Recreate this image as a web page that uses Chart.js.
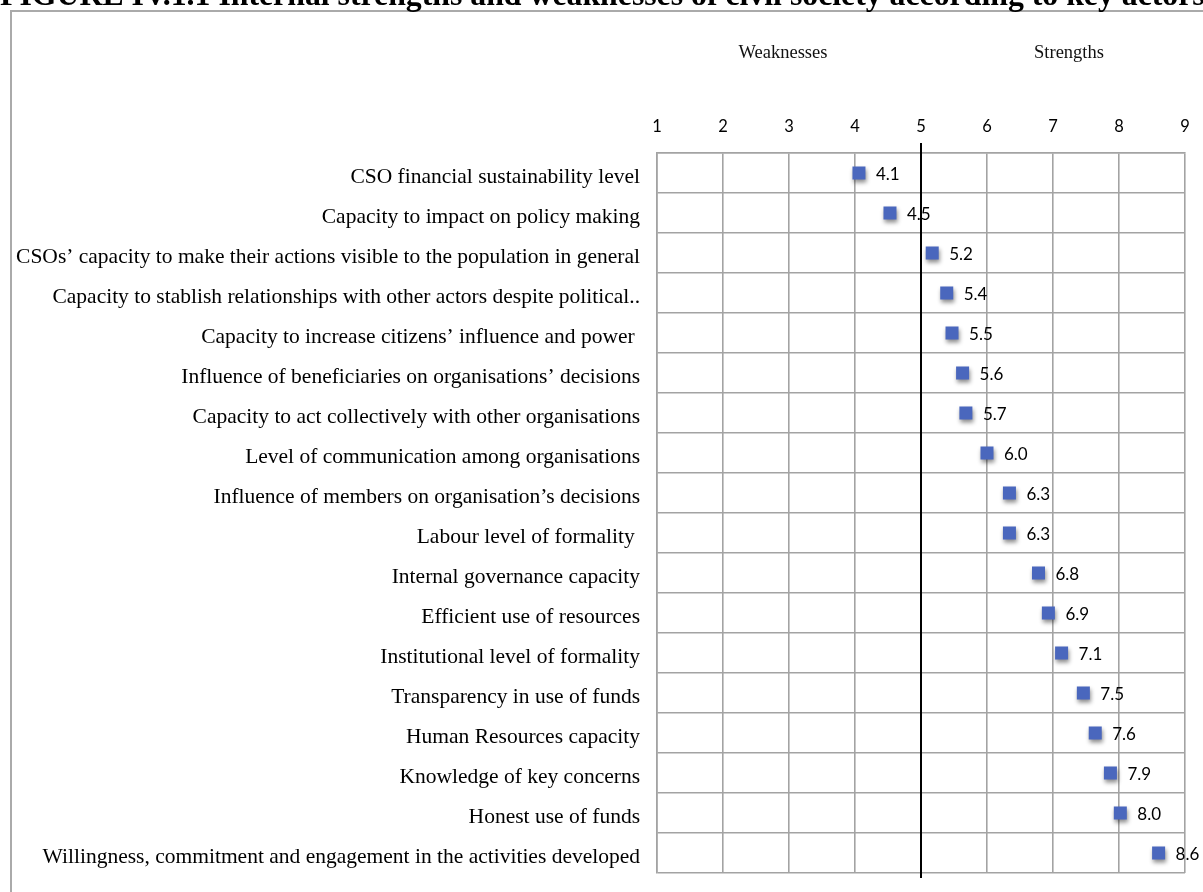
<!DOCTYPE html>
<html>
<head>
<meta charset="utf-8">
<script src="https://cdn.jsdelivr.net/npm/chart.js@4/dist/chart.umd.min.js"></script>
<style>
  html, body { margin: 0; padding: 0; background: #fff; }
  #wrap { width: 1203px; height: 892px; position: relative; }
</style>
</head>
<body>
<div id="wrap"><canvas id="c" width="1203" height="892"></canvas></div>
<script>
const categories = [
  "CSO financial sustainability level",
  "Capacity to impact on policy making",
  "CSOs\u2019 capacity to make their actions visible to the population in general",
  "Capacity to stablish relationships with other actors despite political..",
  "Capacity to increase citizens\u2019 influence and power ",
  "Influence of beneficiaries on organisations\u2019 decisions",
  "Capacity to act collectively with other organisations",
  "Level of communication among organisations",
  "Influence of members on organisation\u2019s decisions",
  "Labour level of formality ",
  "Internal governance capacity",
  "Efficient use of resources",
  "Institutional level of formality",
  "Transparency in use of funds",
  "Human Resources capacity",
  "Knowledge of key concerns",
  "Honest use of funds",
  "Willingness, commitment and engagement in the activities developed"
];
const scores = [4.06, 4.53, 5.17, 5.39, 5.47, 5.63, 5.68, 6.0, 6.34, 6.34, 6.78, 6.93, 7.13, 7.46, 7.64, 7.87, 8.02, 8.6];
const xTickValues = [1, 2, 3, 4, 5, 6, 7, 8, 9];
const dividerValue = 5;
const titleText = "FIGURE IV.1.1 Internal strengths and weaknesses of civil society according to key actors";
const sideLabels = ["Weaknesses", "Strengths"];

const GRID = '#a3a3a3';
const MARK = '#4a67bd';

const decorPlugin = {
  id: 'decor',
  beforeDraw(chart) {
    const ctx = chart.ctx;
    ctx.save();
    ctx.fillStyle = '#fff';
    ctx.fillRect(0, 0, chart.width, chart.height);
    ctx.strokeStyle = '#aaaaaa';
    ctx.lineWidth = 2;
    ctx.strokeRect(11, 11, 1300, 1000);
    let size = 28;
    ctx.font = 'bold ' + size + 'px "Liberation Serif", "Times New Roman", serif';
    const w = ctx.measureText(titleText).width;
    size = size * 1205 / w;
    ctx.font = 'bold ' + size.toFixed(2) + 'px "Liberation Serif", "Times New Roman", serif';
    ctx.fillStyle = '#000';
    ctx.textBaseline = 'alphabetic';
    ctx.textAlign = 'left';
    ctx.fillText(titleText, 0, 5);
    ctx.font = '18.5px "Liberation Serif", "Times New Roman", serif';
    ctx.textAlign = 'center';
    ctx.textBaseline = 'middle';
    ctx.fillStyle = '#111';
    ctx.fillText(sideLabels[0], 783, 53);
    ctx.fillText(sideLabels[1], 1069, 53);
    ctx.restore();
  },
  beforeDatasetsDraw(chart) {
    const ctx = chart.ctx;
    const xs = chart.scales.x;
    const px = xs.getPixelForValue(dividerValue);
    ctx.save();
    ctx.strokeStyle = '#000';
    ctx.lineWidth = 2;
    ctx.beginPath();
    ctx.moveTo(px, chart.chartArea.top - 10);
    ctx.lineTo(px, chart.chartArea.bottom + 5);
    ctx.stroke();
    ctx.restore();
  },
  beforeDatasetDraw(chart) {
    const ctx = chart.ctx;
    ctx.save();
    ctx.shadowColor = 'rgba(0,0,0,0.45)';
    ctx.shadowOffsetX = 1;
    ctx.shadowOffsetY = 3;
    ctx.shadowBlur = 4;
  },
  afterDatasetDraw(chart) {
    chart.ctx.restore();
  },
  afterDraw(chart) {
    const ctx = chart.ctx;
    const meta = chart.getDatasetMeta(0);
    ctx.save();
    ctx.font = '17px Lato, "Open Sans", sans-serif';
    ctx.fillStyle = '#000';
    ctx.textAlign = 'left';
    ctx.textBaseline = 'middle';
    meta.data.forEach((pt, i) => {
      ctx.fillText(scores[i].toFixed(1), pt.x + 17, pt.y + 2);
    });
    ctx.restore();
  }
};

new Chart(document.getElementById('c'), {
  type: 'line',
  data: {
    labels: categories,
    datasets: [{
      data: scores,
      showLine: false,
      pointStyle: 'rect',
      pointRadius: 9.2,
      pointHoverRadius: 9.2,
      pointBackgroundColor: MARK,
      pointBorderColor: MARK,
      pointBorderWidth: 0,
      clip: false
    }]
  },
  options: {
    indexAxis: 'y',
    responsive: false,
    animation: false,
    devicePixelRatio: 1,
    layout: { padding: { top: 0, right: 18, bottom: 19, left: 0 } },
    plugins: { legend: { display: false }, tooltip: { enabled: false } },
    scales: {
      x: {
        type: 'linear',
        position: 'top',
        min: 1,
        max: 9,
        afterBuildTicks(s) { s.ticks = xTickValues.map(v => ({ value: v })); },
        afterFit(s) { s.height = 153; s.paddingLeft = 0; s.paddingRight = 0; },
        ticks: {
          padding: 16,
          color: '#000',
          font: { family: 'Lato, "Open Sans", sans-serif', size: 16.5 },
          callback: v => String(v)
        },
        grid: { color: GRID, lineWidth: 1.6, drawTicks: false },
        border: { display: true, color: GRID, width: 1.6 }
      },
      y: {
        type: 'category',
        offset: true,
        afterFit(s) { s.width = 657; s.paddingTop = 0; s.paddingBottom = 0; },
        ticks: {
          padding: 17,
          labelOffset: 4,
          color: '#000',
          autoSkip: false,
          font: { family: '"Liberation Serif", "Times New Roman", serif', size: 21.5 }
        },
        grid: { color: GRID, lineWidth: 1.6, drawTicks: false, offset: true },
        border: { display: true, color: GRID, width: 1.6 }
      }
    }
  },
  plugins: [decorPlugin]
});
</script>
</body>
</html>
